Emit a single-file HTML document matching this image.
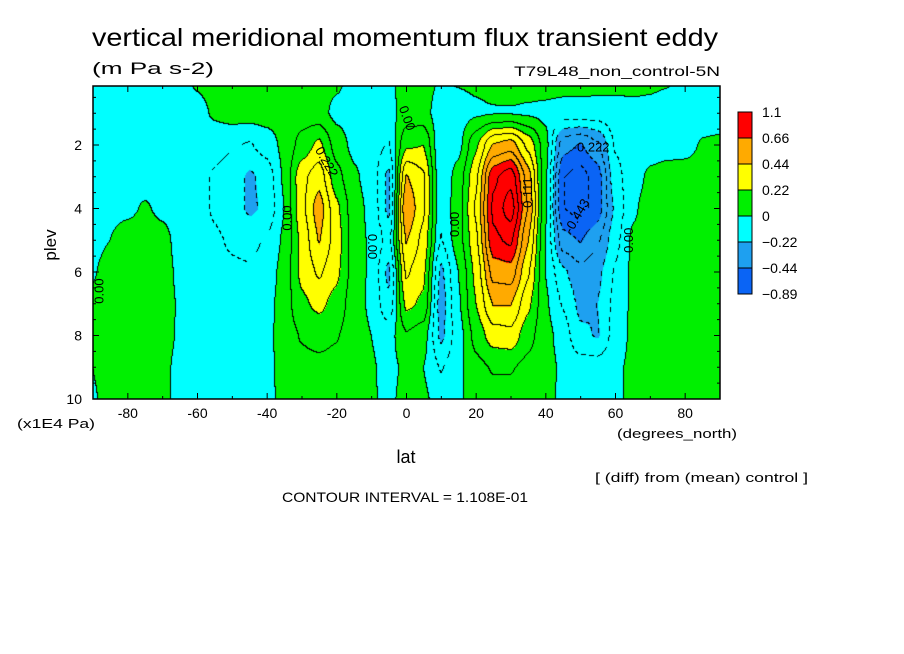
<!DOCTYPE html>
<html><head><meta charset="utf-8"><style>
body{margin:0;background:#fff;width:904px;height:654px;overflow:hidden;position:relative;font-family:"Liberation Sans",sans-serif}
canvas{position:absolute;left:93px;top:86px}
svg{position:absolute;left:0;top:0}
</style></head><body>
<canvas id="cv" width="627" height="313"></canvas>
<svg id="sv" width="904" height="654" xmlns="http://www.w3.org/2000/svg"></svg>
<script>
const lats=[-90,-85,-80,-75,-70,-65,-60,-55,-50,-45,-40,-35,-30,-25,-20,-15,-10,-5,0,5,10,15,20,25,30,35,40,45,50,55,60,65,70,75,80,85,90];
const plevs=[0,1,2,3,4,5,6,7,8,9,10];
const field=[
[-.05,-.05,-.05,-.05,-.05,-.05,.02,.05,.05,.05,.05,.05,.05,.04,.02,-.03,-.04,-.02,.04,.04,-.01,.01,.02,.04,.05,.05,.05,.05,.05,.04,.03,.03,.02,.01,-.03,-.05,-.05],
[-.05,-.05,-.05,-.05,-.05,-.05,-.05,.02,.05,.05,.05,.05,.06,.04,-.03,-.05,-.05,-.04,.05,.04,-.06,-.05,-.02,-.01,-.01,-.02,-.03,-.05,-.05,-.05,-.04,-.03,-.03,-.05,-.05,-.05,-.05],
[-.05,-.05,-.05,-.05,-.05,-.05,-.06,-.08,-.1,-.12,-.06,.03,.15,.25,.06,-.03,-.06,-.12,.2,.22,-.1,-.04,.2,.45,.5,.3,.05,-.4,-.45,-.35,-.1,-.05,-.05,-.05,-.04,.01,.02],
[-.04,-.03,-.03,-.04,-.05,-.06,-.08,-.12,-.16,-.24,-.18,.02,.3,.4,.15,.02,-.05,-.25,.45,.35,-.1,.05,.3,.75,.85,.5,.03,-.55,-.6,-.5,-.15,-.05,.02,.05,.05,.05,.05],
[-.03,-.02,-.02,.01,-.02,-.04,-.08,-.12,-.16,-.24,-.2,.0,.3,.5,.25,.05,-.03,-.25,.55,.35,-.08,.06,.35,.8,.95,.55,.02,-.55,-.6,-.5,-.2,-.02,.05,.05,.05,.05,.05],
[-.03,.0,.04,.05,.03,-.03,-.08,-.1,-.12,-.14,-.1,.02,.25,.45,.28,.06,-.02,-.15,.45,.3,-.12,.06,.3,.75,.8,.45,.0,-.4,-.45,-.35,-.15,.02,.05,.05,.05,.05,.05],
[-.01,.04,.05,.05,.04,-.02,-.06,-.08,-.1,-.1,-.06,.04,.25,.35,.25,.06,-.02,-.25,.35,.25,-.25,.0,.25,.6,.62,.35,.0,-.2,-.3,-.25,-.1,.02,.05,.05,.05,.05,.05],
[.02,.05,.05,.05,.04,-.01,-.05,-.07,-.08,-.07,-.04,.05,.2,.25,.18,.05,-.02,-.2,.25,.2,-.28,-.02,.22,.45,.45,.25,.02,-.12,-.25,-.22,-.08,.02,.05,.05,.05,.05,.05],
[.0,.05,.05,.05,.03,-.01,-.03,-.05,-.05,-.04,-.03,.05,.12,.15,.12,.05,.0,-.05,.1,.05,-.25,-.05,.15,.28,.3,.15,.04,-.05,-.2,-.23,-.06,.02,.05,.05,.05,.05,.05],
[.0,.04,.05,.05,.02,-.02,-.03,-.04,-.03,-.03,-.03,.04,.08,.08,.07,.04,.01,-.03,.02,.0,-.12,-.03,.08,.12,.12,.08,.04,-.02,-.06,-.06,-.02,.02,.04,.04,.04,.04,.04],
[-.01,.03,.04,.04,.02,-.02,-.02,-.02,-.02,-.02,-.03,.03,.05,.05,.05,.03,.01,-.02,.03,.02,-.05,-.02,.05,.07,.07,.05,.03,-.02,-.04,-.04,-.02,.02,.03,.03,.03,.03,.03]];
const levels=[-0.89,-0.44,-0.22,0,0.22,0.44,0.66,1.1];
const colors=["#0a64f5","#1ea0f0","#00ffff","#00f000","#ffff00","#ffaa00","#ff0000"];
const xTicks=[-80,-60,-40,-20,0,20,40,60,80];
const yTicks=[2,4,6,8,10];
const CI=0.1108;

const X0=93,X1=720,Y0=86,Y1=399;
const xs=lat=>X0+(lat+90)*(X1-X0)/180;
const ys=p=>399-(10-p)*31.75;
const latOf=px=>(px-X0)*180/(X1-X0)-90;
const pOf=py=>10-(399-py)/31.75;
function val(lat,p){
  let fi=(lat-lats[0])/(lats[1]-lats[0]);fi=Math.max(0,Math.min(lats.length-1.001,fi));
  let fj=(p-plevs[0])/(plevs[1]-plevs[0]);fj=Math.max(0,Math.min(plevs.length-1.001,fj));
  const i=Math.floor(fi),j=Math.floor(fj),a=fi-i,b=fj-j;
  const sa=a*a*(3-2*a)*0.5+a*0.5, sb=b*b*(3-2*b)*0.5+b*0.5;
  return field[j][i]*(1-sa)*(1-sb)+field[j][i+1]*sa*(1-sb)+field[j+1][i]*(1-sa)*sb+field[j+1][i+1]*sa*sb;
}
function cls(v){let k=0;for(let t=1;t<levels.length-1;t++)if(v>=levels[t])k=t;return k;}
const cv=document.getElementById('cv'),ctx=cv.getContext('2d');
const W=cv.width,H=cv.height,img=ctx.createImageData(W,H);
const V=new Float32Array(W*H),C=new Int8Array(W*H),L=new Int16Array(W*H);
for(let y=0;y<H;y++)for(let x=0;x<W;x++){const v=val(latOf(X0+x+0.5),pOf(Y0+y+0.5));V[y*W+x]=v;C[y*W+x]=cls(v);L[y*W+x]=Math.floor(v/CI);}
const rgb=colors.map(c=>[parseInt(c.substr(1,2),16),parseInt(c.substr(3,2),16),parseInt(c.substr(5,2),16)]);
for(let y=0;y<H;y++)for(let x=0;x<W;x++){
  const k=y*W+x;let c=rgb[C[k]];
  let edge=false,zero=false;
  if(x<W-1&&L[k]!==L[k+1]){edge=true;if((V[k]<0)!==(V[k+1]<0))zero=true;}
  if(y<H-1&&L[k]!==L[k+W]){edge=true;if((V[k]<0)!==(V[k+W]<0))zero=true;}
  if(edge){const neg=V[k]<0&&!zero;if(!neg||((x+y)%9<5))c=[0,0,0];}
  img.data[k*4]=c[0];img.data[k*4+1]=c[1];img.data[k*4+2]=c[2];img.data[k*4+3]=255;
}
ctx.putImageData(img,0,0);

const sv=document.getElementById('sv');const NS="http://www.w3.org/2000/svg";
function el(t,a,txt){const e=document.createElementNS(NS,t);for(const k in a)e.setAttribute(k,a[k]);if(txt!==undefined)e.textContent=txt;sv.appendChild(e);return e;}
let e;
e=el('rect',{x:X0,y:Y0,width:X1-X0,height:Y1-Y0,fill:'none',stroke:'#000','stroke-width':1.5});

for(let lat=-90;lat<=90;lat+=10){const len=lat%20===0?6:3;
  e=el('line',{x1:xs(lat),x2:xs(lat),y1:Y1,y2:Y1-len,stroke:'#000'});
  
  e=el('line',{x1:xs(lat),x2:xs(lat),y1:Y0,y2:Y0+len,stroke:'#000'});
  }
for(let p=0.5;p<=10;p+=0.5){const len=p%2===0?6:3;
  e=el('line',{x1:X0,x2:X0+len,y1:ys(p),y2:ys(p),stroke:'#000'});
  
  e=el('line',{x1:X1,x2:X1-len,y1:ys(p),y2:ys(p),stroke:'#000'});
  }
xTicks.forEach(t=>{e=el('text',{x:xs(t),y:418,'font-size':14,'text-anchor':'middle'},String(t));
  });
yTicks.forEach(t=>{e=el('text',{x:82,y:ys(t)+5,'font-size':14,'text-anchor':'end'},String(t));
  });
const CBX=738,CBY=112,CBH=26;
for(let i=0;i<colors.length;i++){const ci=colors.length-1-i;
  e=el('rect',{x:CBX,y:CBY+i*CBH,width:14,height:CBH,fill:colors[ci],stroke:'#000','stroke-width':1});
  }
for(let i=0;i<levels.length;i++){const li=levels.length-1-i;
  e=el('text',{x:762,y:CBY+i*CBH+5,'font-size':14},String(levels[li]).replace('-','−'));
  }
const clabels=[[-87,6.6,'0.00',-90],[-33,4.3,'0.00',-90],[-11,5.2,'0.00',90],[15,4.5,'0.00',-90],[65,5.0,'0.00',-90],[-1,1.2,'0.00',70],[53,2.2,'-0.222',0],[50,4.3,'-0.443',-60],[-24,2.6,'0.222',60],[36,3.5,'0.111',-90]];
clabels.forEach(c=>{const x=xs(c[0]),y=ys(c[1]);
  e=el('text',{x:x,y:y,'font-size':13,'text-anchor':'middle',transform:`rotate(${c[3]} ${x} ${y})`},c[2]);
  });
</script>
<svg width="904" height="654" style="position:absolute;left:0;top:0" xmlns="http://www.w3.org/2000/svg">
<text x="92" y="46" font-size="25" textLength="626" lengthAdjust="spacingAndGlyphs">vertical meridional momentum flux transient eddy</text>
<text x="92" y="74" font-size="17" textLength="122" lengthAdjust="spacingAndGlyphs">(m Pa s-2)</text>
<text x="720" y="76" font-size="14" text-anchor="end" textLength="206" lengthAdjust="spacingAndGlyphs">T79L48_non_control-5N</text>
<text x="56" y="245" font-size="17" text-anchor="middle" transform="rotate(-90 56 245)">plev</text>
<text x="17" y="428" font-size="13" textLength="78" lengthAdjust="spacingAndGlyphs">(x1E4 Pa)</text>
<text x="617" y="438" font-size="13" textLength="120" lengthAdjust="spacingAndGlyphs">(degrees_north)</text>
<text x="406" y="463" font-size="18" text-anchor="middle">lat</text>
<text x="595" y="482" font-size="13" textLength="213" lengthAdjust="spacingAndGlyphs">[ (diff) from (mean) control ]</text>
<text x="282" y="502" font-size="14" textLength="246" lengthAdjust="spacingAndGlyphs">CONTOUR INTERVAL = 1.108E-01</text>
</svg>
</body></html>
